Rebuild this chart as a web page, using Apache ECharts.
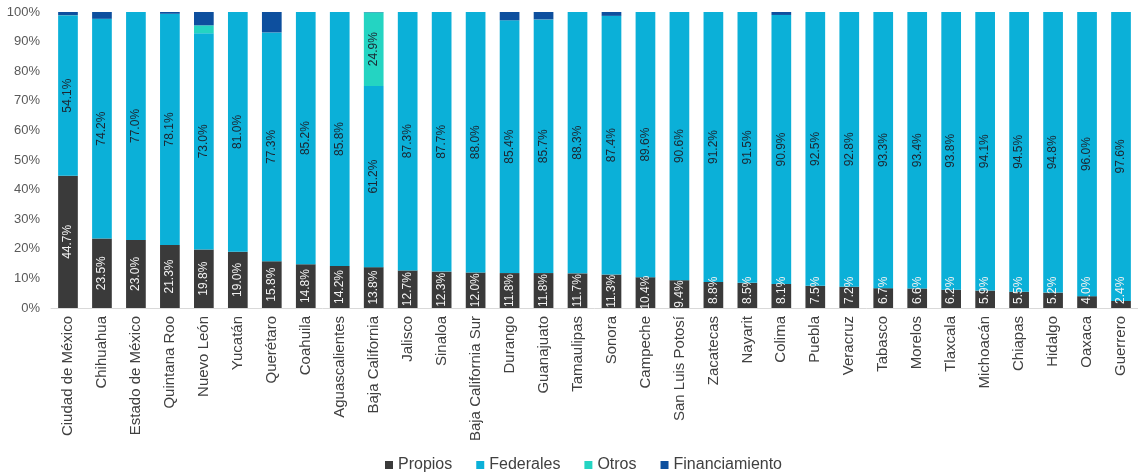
<!DOCTYPE html>
<html>
<head>
<meta charset="utf-8">
<script src="https://cdn.jsdelivr.net/npm/echarts@6/dist/echarts.min.js"></script>
<style>html,body{margin:0;padding:0;background:#fff;}#c{width:1138px;height:474px;}</style>
</head>
<body>
<div id="c"></div>
<script>
var categories = ["Ciudad de México","Chihuahua","Estado de México","Quintana Roo","Nuevo León","Yucatán","Querétaro","Coahuila","Aguascalientes","Baja California","Jalisco","Sinaloa","Baja California Sur","Durango","Guanajuato","Tamaulipas","Sonora","Campeche","San Luis Potosí","Zacatecas","Nayarit","Colima","Puebla","Veracruz","Tabasco","Morelos","Tlaxcala","Michoacán","Chiapas","Hidalgo","Oaxaca","Guerrero"];
var propios = [44.7,23.5,23.0,21.3,19.8,19.0,15.8,14.8,14.2,13.8,12.7,12.3,12.0,11.8,11.8,11.7,11.3,10.4,9.4,8.8,8.5,8.1,7.5,7.2,6.7,6.6,6.2,5.9,5.5,5.2,4.0,2.4];
var federales = [54.1,74.2,77.0,78.1,73.0,81.0,77.3,85.2,85.8,61.2,87.3,87.7,88.0,85.4,85.7,88.3,87.4,89.6,90.6,91.2,91.5,90.9,92.5,92.8,93.3,93.4,93.8,94.1,94.5,94.8,96.0,97.6];
var otros = [0.1,0,0,0,2.7,0,0,0,0,24.9,0,0,0,0,0,0,0,0,0,0,0,0,0,0,0,0,0,0,0,0,0,0];
var financiamiento = [1.1,2.3,0,0.6,4.5,0,6.9,0,0,0.1,0,0,0,2.8,2.5,0,1.3,0,0,0,0,1.0,0,0,0,0,0,0,0,0,0,0];
var yTicks = [0,10,20,30,40,50,60,70,80,90,100];

var FONT = 'Liberation Sans, Arial, sans-serif';
function fmt(v){ return v.toFixed(1) + '%'; }

var propiosData = propios.map(function(v){
  if (v < 9) {
    return {value: v, label: {position: 'insideBottom', distance: 4, align: 'left', verticalAlign: 'middle'}};
  }
  return {value: v};
});

var chart = echarts.init(document.getElementById('c'));
chart.setOption({
  animation: false,
  textStyle: {fontFamily: FONT},
  grid: {left: 51, right: -9, top: 12, bottom: 166},
  legend: {
    top: 452, left: 380, itemWidth: 8, itemHeight: 8, itemGap: 24,
    icon: 'rect',
    textStyle: {fontSize: 16, color: '#404040', fontFamily: FONT},
    data: ['Propios','Federales','Otros','Financiamiento']
  },
  xAxis: {
    type: 'category', data: categories,
    axisLine: {lineStyle: {color: '#d9d9d9'}},
    axisTick: {show: false},
    axisLabel: {rotate: 90, interval: 0, fontSize: 15, color: '#404040', margin: 8, fontFamily: FONT}
  },
  yAxis: {
    type: 'value', min: yTicks[0], max: yTicks[yTicks.length-1], interval: 10,
    splitLine: {show: false},
    axisLine: {show: false}, axisTick: {show: false},
    axisLabel: {formatter: '{value}%', fontSize: 13, color: '#595959', margin: 11, fontFamily: FONT}
  },
  series: [
    {name: 'Propios', type: 'bar', stack: 't', barWidth: '58%', data: propiosData,
     itemStyle: {color: '#3a3a3a'},
     label: {show: true, position: 'inside', rotate: 90, fontSize: 12, color: '#f2f2f2', fontFamily: FONT,
       formatter: function(p){ return fmt(p.value); }}},
    {name: 'Federales', type: 'bar', stack: 't', barWidth: '58%', data: federales,
     itemStyle: {color: '#0bb0d8'},
     label: {show: true, position: 'inside', rotate: 90, fontSize: 12, color: '#1c2632', fontFamily: FONT,
       formatter: function(p){ return fmt(p.value); }}},
    {name: 'Otros', type: 'bar', stack: 't', barWidth: '58%', data: otros,
     itemStyle: {color: '#24d4c2'},
     label: {show: true, position: 'inside', rotate: 90, fontSize: 12, color: '#1c2632', fontFamily: FONT,
       formatter: function(p){ return p.value >= 5 ? fmt(p.value) : ''; }}},
    {name: 'Financiamiento', type: 'bar', stack: 't', barWidth: '58%', data: financiamiento,
     itemStyle: {color: '#0d4f9e'}}
  ]
});
</script>
</body>
</html>
